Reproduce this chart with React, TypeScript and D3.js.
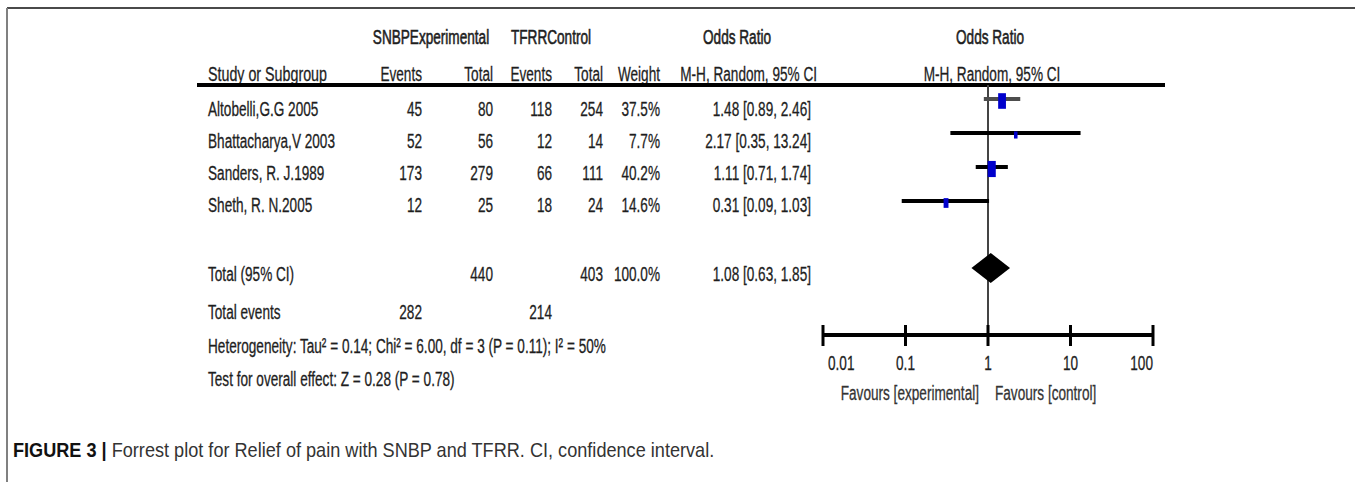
import React, { useEffect, useRef } from "react"
import * as d3 from "d3"

// study rows
const studies = ["Altobelli,G.G 2005", "Bhattacharya,V 2003", "Sanders, R. J.1989", "Sheth, R. N.2005"]
const expEvents = [45, 52, 173, 12]
const expTotal = [80, 56, 279, 25]
const ctrlEvents = [118, 12, 66, 18]
const ctrlTotal = [254, 14, 111, 24]
const weights = [37.5, 7.7, 40.2, 14.6]
const oddsRatio = [1.48, 2.17, 1.11, 0.31]
const ciLow = [0.89, 0.35, 0.71, 0.09]
const ciHigh = [2.46, 13.24, 1.74, 1.03]

// pooled result
const pooled = [1.08, 0.63, 1.85]
const totals = [440, 403, 100.0]
const totalEvents = [282, 214]
const heterogeneity = "Heterogeneity: Tau² = 0.14; Chi² = 6.00, df = 3 (P = 0.11); I² = 50%"
const overall = "Test for overall effect: Z = 0.28 (P = 0.78)"

const axisTicks = [0.01, 0.1, 1, 10, 100]
const favours = ["Favours [experimental]", "Favours [control]"]

const W = 1355
const H = 482
const SX = 0.68
const FONT = "'Liberation Sans', Arial, sans-serif"
const INK = "#1e1e1e"

const App = () => {
  const ref = useRef(null)

  useEffect(() => {
    const svg = d3.select(ref.current)
    svg.selectAll("*").remove()

    const x = d3.scaleLog().domain([0.01, 100]).range([823, 1153])
    // table rows and plot rows do not share exactly the same pitch in the source
    const textY = d3.scaleLinear().domain([0, 3]).range([109, 205])
    const plotY = d3.scaleLinear().domain([0, 3]).range([99, 201])
    const totalTextY = 274
    const diamondY = 268
    const axisY = 335

    // condensed text helper (the scan is squeezed horizontally)
    const txt = (tx, ty, s, anchor = "start", size = 20, fill = INK, sw = 0.3) => {
      return svg.append("text")
        .attr("transform", `translate(${tx},${ty}) scale(${SX},1)`)
        .attr("text-anchor", anchor)
        .attr("font-family", FONT)
        .attr("font-size", size)
        .attr("fill", fill)
        .attr("stroke", fill)
        .attr("stroke-width", sw)
        .text(s)
    }

    // frame
    svg.append("line").attr("x1", 7).attr("x2", W).attr("y1", 8).attr("y2", 8)
      .attr("stroke", "#4a4a4a").attr("stroke-width", 2)
    svg.append("line").attr("x1", 7).attr("x2", 7).attr("y1", 8).attr("y2", H)
      .attr("stroke", "#808080").attr("stroke-width", 2)

    // header
    txt(431, 44, "SNBPExperimental", "middle", 20, INK, 0.6)
    txt(551, 44, "TFRRControl", "middle", 20, INK, 0.6)
    txt(737, 44, "Odds Ratio", "middle", 20, INK, 0.6)
    txt(990, 44, "Odds Ratio", "middle", 20, INK, 0.6)
    txt(208, 81, "Study or Subgroup", "start", 21)
    txt(422, 81, "Events", "end")
    txt(493, 81, "Total", "end")
    txt(552, 81, "Events", "end")
    txt(603, 81, "Total", "end")
    txt(660, 81, "Weight", "end")
    txt(817, 81, "M-H, Random, 95% CI", "end")
    txt(992, 81, "M-H, Random, 95% CI", "middle")
    svg.append("line").attr("x1", 197).attr("x2", 1165).attr("y1", 85).attr("y2", 85)
      .attr("stroke", "#000").attr("stroke-width", 4)

    // rows
    const fmt = d3.format(".2f")
    studies.forEach((s, i) => {
      const y = textY(i) + 7
      txt(208, y, s)
      txt(422, y, String(expEvents[i]), "end")
      txt(493, y, String(expTotal[i]), "end")
      txt(552, y, String(ctrlEvents[i]), "end")
      txt(603, y, String(ctrlTotal[i]), "end")
      txt(660, y, weights[i].toFixed(1) + "%", "end")
      txt(811, y, `${fmt(oddsRatio[i])} [${fmt(ciLow[i])}, ${fmt(ciHigh[i])}]`, "end")
    })

    // totals
    txt(208, totalTextY + 7, "Total (95% CI)")
    txt(493, totalTextY + 7, String(totals[0]), "end")
    txt(603, totalTextY + 7, String(totals[1]), "end")
    txt(660, totalTextY + 7, totals[2].toFixed(1) + "%", "end")
    txt(811, totalTextY + 7, `${fmt(pooled[0])} [${fmt(pooled[1])}, ${fmt(pooled[2])}]`, "end")
    txt(208, 319, "Total events")
    txt(422, 319, String(totalEvents[0]), "end")
    txt(552, 319, String(totalEvents[1]), "end")
    txt(208, 353, heterogeneity)
    txt(208, 386, overall)

    // line of no effect
    svg.append("line").attr("x1", x(1)).attr("x2", x(1)).attr("y1", 85).attr("y2", axisY)
      .attr("stroke", "#444").attr("stroke-width", 2)

    // confidence intervals
    svg.selectAll(".ci").data(studies).enter().append("line")
      .attr("x1", (d, i) => x(ciLow[i]))
      .attr("x2", (d, i) => x(ciHigh[i]))
      .attr("y1", (d, i) => plotY(i))
      .attr("y2", (d, i) => plotY(i))
      .attr("stroke", (d, i) => i === 0 ? "#4d4d4d" : "#000")
      .attr("stroke-width", 4)

    // weight boxes
    const boxW = d3.scaleSqrt().domain([0, 40.2]).range([0, 9.5])
    svg.selectAll(".box").data(studies).enter().append("rect")
      .attr("x", (d, i) => x(oddsRatio[i]) - boxW(weights[i]) * 0.85 / 2)
      .attr("y", (d, i) => plotY(i) + 2 - boxW(weights[i]) * 0.85)
      .attr("width", (d, i) => boxW(weights[i]) * 0.85)
      .attr("height", (d, i) => boxW(weights[i]) * 1.7)
      .attr("fill", "#0000cc")

    // pooled diamond
    svg.append("path")
      .attr("d", `M${x(pooled[1])},${diamondY} L${x(pooled[0])},${diamondY - 15} L${x(pooled[2])},${diamondY} L${x(pooled[0])},${diamondY + 15} Z`)
      .attr("fill", "#000")

    // axis
    svg.append("line").attr("x1", x(0.01)).attr("x2", x(100)).attr("y1", axisY).attr("y2", axisY)
      .attr("stroke", "#000").attr("stroke-width", 4)
    svg.selectAll(".tick").data(axisTicks).enter().append("line")
      .attr("x1", d => x(d)).attr("x2", d => x(d))
      .attr("y1", axisY - 10).attr("y2", axisY + 11)
      .attr("stroke", "#000").attr("stroke-width", 3)
    axisTicks.forEach((t, i) => {
      const anchor = i === 0 ? "start" : i === axisTicks.length - 1 ? "end" : "middle"
      txt(x(t) + (i === 0 ? 5 : 0), 370, String(t), anchor)
    })
    txt(x(1) - 9, 400, favours[0], "end", 20, "#333")
    txt(x(1) + 7, 400, favours[1], "start", 20, "#333")

    // caption
    const cap = svg.append("text")
      .attr("transform", "translate(13,457) scale(0.93,1)")
      .attr("font-family", FONT)
      .attr("font-size", 19.5)
    cap.append("tspan").attr("font-weight", "bold").attr("fill", "#111").text("FIGURE 3 |")
    cap.append("tspan").attr("fill", "#333").text(" Forrest plot for Relief of pain with SNBP and TFRR. CI, confidence interval.")
  }, [])

  return (
    <svg ref={ref} width={W} height={H}
      style={{ position: "absolute", left: 0, top: 0, background: "#fff" }} />
  )
}

export default App
